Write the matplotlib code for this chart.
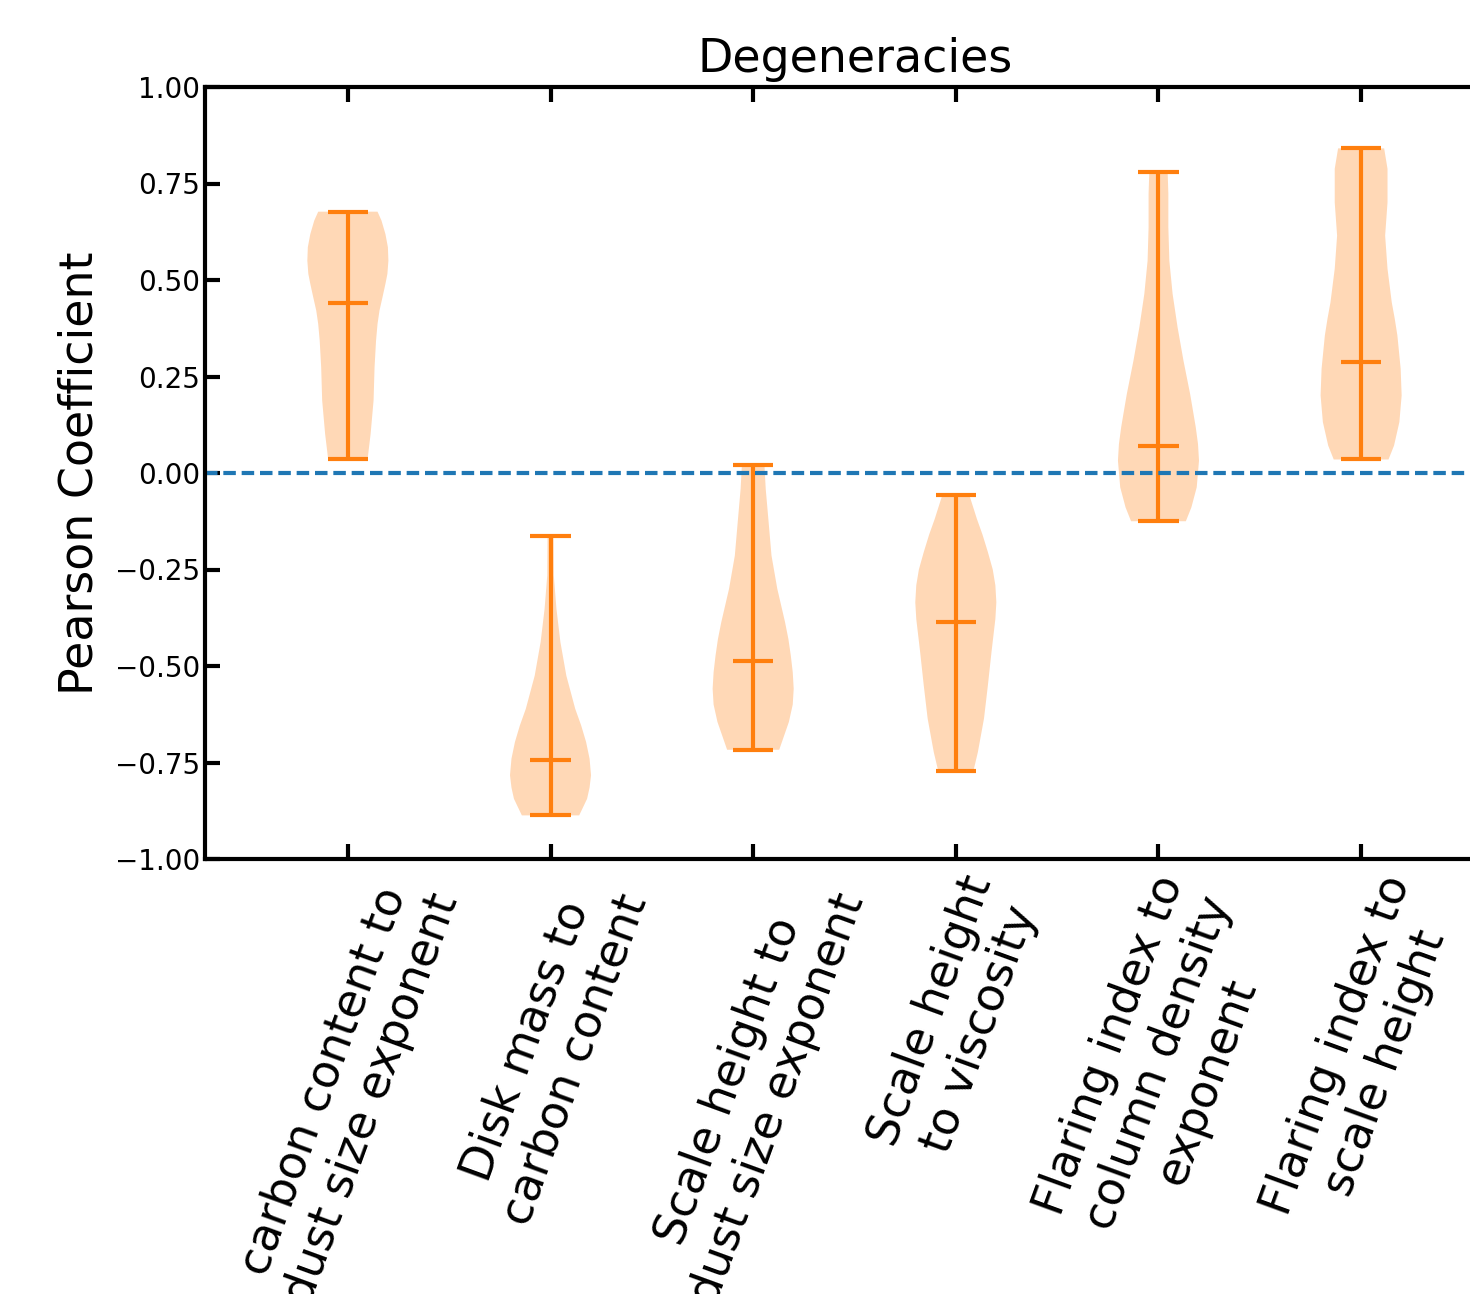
import numpy as np
import matplotlib
matplotlib.use("Agg")
import matplotlib.pyplot as plt

labels = ["carbon content to\ndust size exponent",
          "Disk mass to\ncarbon content",
          "Scale height to\ndust size exponent",
          "Scale height\nto viscosity",
          "Flaring index to\ncolumn density\nexponent",
          "Flaring index to\nscale height"]

# violin outlines: y values and relative half-widths
shape_y = [
    [0.677, 0.654, 0.619, 0.585, 0.550, 0.516, 0.490, 0.455, 0.421, 0.386, 0.343, 0.274, 0.188, 0.101, 0.037],
    [-0.164, -0.265, -0.352, -0.438, -0.525, -0.611, -0.654, -0.697, -0.740, -0.783, -0.815, -0.844, -0.887],
    [0.021, -0.041, -0.127, -0.214, -0.300, -0.386, -0.430, -0.473, -0.516, -0.559, -0.600, -0.645, -0.717],
    [-0.058, -0.119, -0.160, -0.205, -0.250, -0.291, -0.335, -0.378, -0.464, -0.550, -0.636, -0.723, -0.773],
    [0.779, 0.723, 0.636, 0.550, 0.464, 0.378, 0.291, 0.205, 0.160, 0.119, 0.075, 0.032, -0.037, -0.089, -0.125],
    [0.841, 0.788, 0.701, 0.615, 0.529, 0.442, 0.400, 0.356, 0.270, 0.201, 0.132, 0.071, 0.035],
]
shape_w = [
    [30, 34, 38, 40.5, 41, 40, 38, 35, 32, 30, 28.5, 27, 26, 23, 20],
    [3, 3.3, 6, 10, 16, 25, 31, 36, 39.5, 41, 39.5, 37, 29],
    [11.7, 13, 16, 19, 25, 33, 36.5, 39, 41, 42, 41, 37, 27],
    [14, 21.7, 27.5, 33, 38, 40.7, 41.7, 40.7, 36.7, 33, 29, 22.7, 18],
    [9.3, 10, 10, 11, 14.3, 19.3, 25.3, 32, 35, 37.7, 40, 41, 38.7, 33.3, 27.7],
    [23.3, 26.7, 26.7, 24.3, 26.7, 31, 34, 36.7, 40, 41, 38.7, 33.3, 27.7],
]
means = [0.440, -0.744, -0.486, -0.387, 0.071, 0.288]
mins = [0.037, -0.887, -0.717, -0.773, -0.125, 0.035]
maxs = [0.677, -0.164, 0.021, -0.058, 0.779, 0.841]

stats = []
for i in range(len(labels)):
    stats.append({"coords": np.array(shape_y[i]), "vals": np.array(shape_w[i]),
                  "mean": means[i], "median": means[i],
                  "min": mins[i], "max": maxs[i]})

fig = plt.figure(figsize=(14.7, 12.94), dpi=100)
ax = fig.add_axes([205/1470, 1-859/1294, 1300/1470, 772/1294])

pos = np.arange(1, len(labels)+1)
parts = ax.violin(stats, positions=pos, widths=0.4, showmeans=True, showextrema=True)
for b in parts["bodies"]:
    b.set_facecolor("C1")
    b.set_edgecolor("none")
    b.set_alpha(0.3)
for k in ["cbars", "cmins", "cmaxes", "cmeans"]:
    parts[k].set_color("C1")
    parts[k].set_linewidth(3)

ax.axhline(0, ls=(0, (3.0, 1.4)), color="C0", lw=3)

ax.set_xlim(0.295, 6.71)
ax.set_ylim(-1, 1)
ax.set_yticks(np.arange(-1, 1.01, 0.25))
ax.set_xticks(pos)
ax.set_xticklabels(labels, rotation=70, fontsize=33)
ax.tick_params(direction="in", top=True, right=True, length=11, width=3)
ax.tick_params(axis="y", labelsize=20)
ax.tick_params(axis="x", pad=8)
for s in ax.spines.values():
    s.set_linewidth(3)

ax.set_ylabel("Pearson Coefficient", fontsize=33, labelpad=9)
ax.set_title("Degeneracies", fontsize=33, pad=11)

fig.savefig("out.png", dpi=100)
